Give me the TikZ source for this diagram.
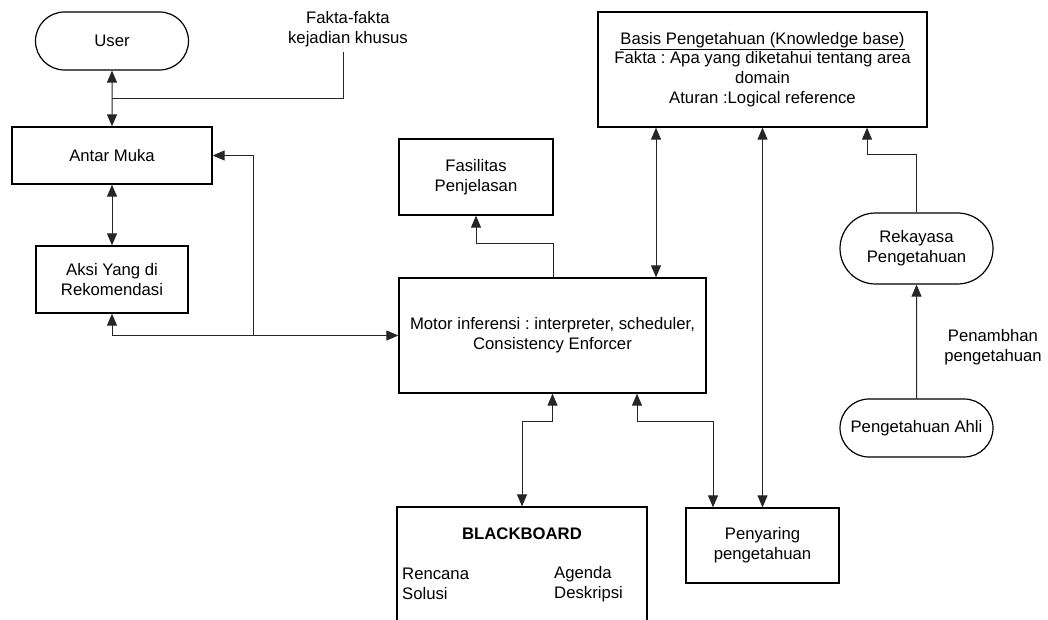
\documentclass[tikz,border=0pt]{standalone}
\usepackage{fontspec}
\setmainfont{Liberation Sans}
\frenchspacing
\usetikzlibrary{arrows.meta,shapes.misc}

\begin{document}
\begin{tikzpicture}[x=1pt,y=-1pt,
    every node/.style={font=\fontsize{16.7}{19.8}\selectfont,inner sep=0pt,align=center},
    box/.style={draw,line width=1.3pt,rectangle},
    term/.style={draw,line width=1.2pt,rounded rectangle,minimum width=153pt},
    conn/.style={line width=1pt,draw=black!85},
    arr/.style={conn,-{Triangle[length=12pt,width=10pt]}},
    arrtwo/.style={conn,{Triangle[length=12pt,width=10pt]}-{Triangle[length=12pt,width=10pt]}}]
  \useasboundingbox (0,0) rectangle (1048,620);

  % left column
  \path (112,41) node[term,minimum height=58pt] (user) {User};
  \path (348,29) node (fakta) {Fakta-fakta\\kejadian khusus};
  \path (112,155.5) node[box,minimum width=200pt,minimum height=57pt] (antar) {Antar Muka};
  \path (112,279.5) node[box,minimum width=152pt,minimum height=67pt] (aksi) {Aksi Yang di\\Rekomendasi};

  % middle
  \path (476,177) node[box,minimum width=154pt,minimum height=76pt] (fasil) {Fasilitas\\Penjelasan};
  \path (552.5,335.5) node[box,minimum width=307pt,minimum height=115pt] (motor)
    {Motor inferensi : interpreter, scheduler,\\Consistency Enforcer};
  \path (522,578.5) node[box,minimum width=250pt,minimum height=143pt] (bb) {};
  \path (522,534) node (bbtitle) {\textbf{BLACKBOARD}};
  \path (402,584) node[anchor=west,align=left] (rencana) {Rencana\\Solusi};
  \path (554,584) node[anchor=west,align=left] (agenda) {Agenda\\Deskripsi};
  \path (762.5,545.5) node[box,minimum width=153pt,minimum height=75pt] (penyar) {Penyaring\\pengetahuan};

  % right
  \path (762.5,69.5) node[box,minimum width=329pt,minimum height=115pt] (kb)
    {\underline{Basis Pengetahuan (Knowledge base)}\\Fakta : Apa yang diketahui tentang area\\domain\\Aturan :Logical reference};
  \path (916.5,248.5) node[term,minimum height=71pt] (rekay) {Rekayasa\\Pengetahuan};
  \path (916.5,428) node[term,minimum height=58pt] (ahli) {Pengetahuan Ahli};
  \path (993,347) node (tambah) {Penambhan\\pengetahuan};

  \coordinate (fk) at (343,52);
  \coordinate (jn) at (112,99);
  \coordinate (jb) at (253,335.5);

  % connectors
  \draw[arrtwo] (user) -- (antar);
  \draw[conn] (fk) |- (jn);
  \draw[arrtwo] (antar) -- (aksi);
  \draw[arrtwo] (aksi.south) |- (motor.west);
  \draw[arr] (jb) |- (antar.east);
  \draw[arr] (fasil.east |- motor.north) -- ++(0,-34) -| (fasil.south);
  \draw[arrtwo] (kb.south -| 656,0) -- (motor.north -| 656,0);
  \draw[arrtwo] (kb.south) -- (penyar.north);
  \draw[arr] (rekay.north) -- ++(0,-58) -| (kb.south -| 867,0);
  \draw[arr] (ahli) -- (rekay);
  \draw[arrtwo] (motor.south) -- ++(0,28) -| (bb.north);
  \draw[arrtwo] (motor.south -| 637,0) -- ++(0,28) -| (penyar.north -| 713,0);
\end{tikzpicture}
\end{document}
